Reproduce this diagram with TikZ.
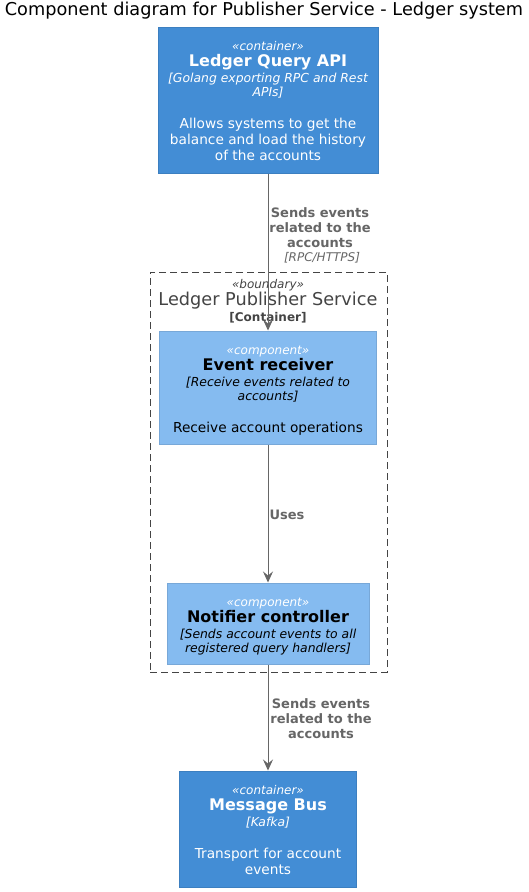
\documentclass[tikz,border=0pt]{standalone}
\usepackage{fontspec}
\setmainfont{DejaVu Sans}
\usetikzlibrary{arrows.meta}
\definecolor{contfill}{HTML}{438DD5}
\definecolor{contline}{HTML}{3C7FC0}
\definecolor{compfill}{HTML}{85BBF0}
\definecolor{compline}{HTML}{78A8D8}
\definecolor{relgray}{HTML}{666666}
\definecolor{bndgray}{HTML}{444444}
\tikzset{
  txt/.style={inner sep=0pt, text height=1.0em, text depth=0em, anchor=center},
  stereo/.style={txt, font=\fontsize{12}{14}\selectfont\itshape},
  cname/.style={txt, font=\fontsize{16}{18}\selectfont\bfseries},
  tech/.style={txt, font=\fontsize{12.4}{14}\selectfont\itshape},
  desc/.style={txt, font=\fontsize{13.7}{16}\selectfont},
  rellab/.style={txt, font=\fontsize{13}{15}\selectfont\bfseries, text=relgray},
  reltech/.style={txt, font=\fontsize{12}{14}\selectfont\itshape, text=relgray},
  containerbox/.style={draw=contline, fill=contfill, line width=1pt, inner sep=0pt},
  componentbox/.style={draw=compline, fill=compfill, line width=1pt, inner sep=0pt},
  boundarybox/.style={draw=bndgray, dash pattern=on 7pt off 4pt, line width=1pt, inner sep=0pt},
  rel/.style={draw=relgray, line width=1pt, -{Stealth[length=11pt, width=10pt, inset=4pt]}},
}
\begin{document}
\begin{tikzpicture}[x=1pt,y=-1pt]
\useasboundingbox (0,0) rectangle (528,892);

% title
\node[txt, font=\fontsize{17.7}{20}\selectfont] (title) at (264,10) {Component diagram for Publisher Service - Ledger system};

% boundary
\node[boundarybox, minimum width=237pt, minimum height=400pt] (bnd) at (268.5,472) {};
\node[stereo, text=bndgray] (bndst) at (268,283) {«boundary»};
\node[txt, font=\fontsize{17.7}{20}\selectfont, text=bndgray] (bndname) at (268,300) {Ledger Publisher Service};
\node[txt, font=\fontsize{12}{14}\selectfont\bfseries, text=bndgray] (bndtype) at (268,316) {[Container]};

% Ledger Query API
\node[containerbox, minimum width=220pt, minimum height=146pt] (api) at (268,100) {};
\begin{scope}[every node/.append style={text=white}]
\node[stereo] (apist) at (268,45) {«container»};
\node[cname] (apiname) at (268,61) {Ledger Query API};
\node[tech] (apitech1) at (268,77) {[Golang exporting RPC and Rest};
\node[tech] (apitech2) at (268,91) {APIs]};
\node[desc] (apid1) at (268,123) {Allows systems to get the};
\node[desc] (apid2) at (268,139) {balance and load the history};
\node[desc] (apid3) at (268,155) {of the accounts};
\end{scope}

% Event receiver
\node[componentbox, minimum width=217pt, minimum height=113pt] (er) at (268,387.5) {};
\node[stereo, text=white] (erst) at (268,349) {«component»};
\node[cname] (ername) at (268,365) {Event receiver};
\node[tech] (ertech1) at (268,381) {[Receive events related to};
\node[tech] (ertech2) at (268,395) {accounts]};
\node[desc] (erd1) at (268,427) {Receive account operations};

% Notifier controller
\node[componentbox, minimum width=202pt, minimum height=81pt] (nc) at (268,623.5) {};
\node[stereo, text=white] (ncst) at (268,601) {«component»};
\node[cname] (ncname) at (268,617) {Notifier controller};
\node[tech] (nctech1) at (268,633) {[Sends account events to all};
\node[tech] (nctech2) at (268,647) {registered query handlers]};

% Message Bus
\node[containerbox, minimum width=177pt, minimum height=116pt] (mb) at (268,829) {};
\begin{scope}[every node/.append style={text=white}]
\node[stereo] (mbst) at (268,789) {«container»};
\node[cname] (mbname) at (268,805) {Message Bus};
\node[tech] (mbtech) at (268,821) {[Kafka]};
\node[desc] (mbd1) at (268,853) {Transport for account};
\node[desc] (mbd2) at (268,869) {events};
\end{scope}

% relations
\draw[rel] (api.south) -- (er.north);
\node[rellab] (l1a) at (320,212) {Sends events};
\node[rellab] (l1b) at (320,227) {related to the};
\node[rellab] (l1c) at (320,242) {accounts};
\node[reltech] (l1d) at (322,256) {[RPC/HTTPS]};

\draw[rel] (er.south) -- (nc.north);
\node[rellab] (l2) at (287,514) {Uses};

\draw[rel] (nc.south) -- (mb.north);
\node[rellab] (l3a) at (321,703) {Sends events};
\node[rellab] (l3b) at (321,718) {related to the};
\node[rellab] (l3c) at (321,733) {accounts};
\end{tikzpicture}
\end{document}
